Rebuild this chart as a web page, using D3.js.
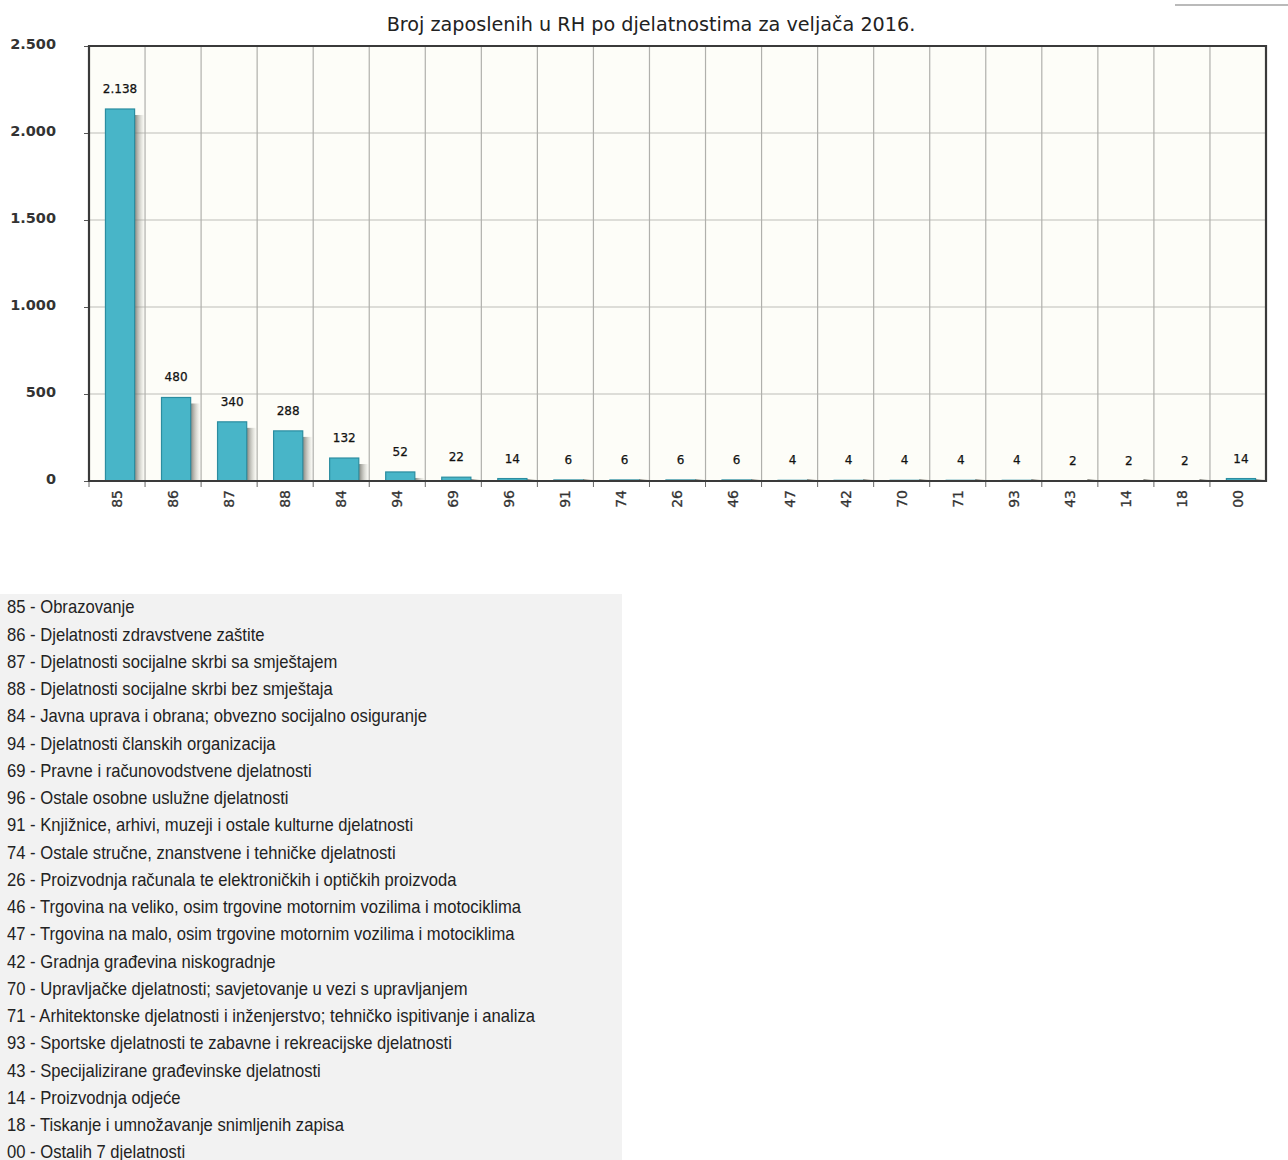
<!DOCTYPE html>
<html>
<head>
<meta charset="utf-8">
<script src="https://cdn.jsdelivr.net/npm/d3@7"></script>
<style>
  body { margin: 0; background: #fff; }
  svg { display: block; }
</style>
</head>
<body>
<svg id="chart" width="1288" height="1160"></svg>
<script>
// sifre djelatnosti, redom kao na grafu
const codes = ["85","86","87","88","84","94","69","96","91","74","26","46","47","42","70","71","93","43","14","18","00"];
const employees = [2138, 480, 340, 288, 132, 52, 22, 14, 6, 6, 6, 6, 4, 4, 4, 4, 4, 2, 2, 2, 14];
const yTicks = [0, 500, 1000, 1500, 2000, 2500];
const names = [
  "Obrazovanje",
  "Djelatnosti zdravstvene zaštite",
  "Djelatnosti socijalne skrbi sa smještajem",
  "Djelatnosti socijalne skrbi bez smještaja",
  "Javna uprava i obrana; obvezno socijalno osiguranje",
  "Djelatnosti članskih organizacija",
  "Pravne i računovodstvene djelatnosti",
  "Ostale osobne uslužne djelatnosti",
  "Knjižnice, arhivi, muzeji i ostale kulturne djelatnosti",
  "Ostale stručne, znanstvene i tehničke djelatnosti",
  "Proizvodnja računala te elektroničkih i optičkih proizvoda",
  "Trgovina na veliko, osim trgovine motornim vozilima i motociklima",
  "Trgovina na malo, osim trgovine motornim vozilima i motociklima",
  "Gradnja građevina niskogradnje",
  "Upravljačke djelatnosti; savjetovanje u vezi s upravljanjem",
  "Arhitektonske djelatnosti i inženjerstvo; tehničko ispitivanje i analiza",
  "Sportske djelatnosti te zabavne i rekreacijske djelatnosti",
  "Specijalizirane građevinske djelatnosti",
  "Proizvodnja odjeće",
  "Tiskanje i umnožavanje snimljenih zapisa",
  "Ostalih 7 djelatnosti"
];
const title = "Broj zaposlenih u RH po djelatnostima za veljača 2016.";

const data = codes.map((c, i) => ({ code: c, value: employees[i], name: names[i] }));
const fmt = d3.formatLocale({ decimal: ",", thousands: ".", grouping: [3], currency: ["", ""] }).format(",d");

const svg = d3.select("#chart");
const plotL = 89, plotR = 1266, plotT = 46, plotB = 481;

const x = d3.scaleBand().domain(codes).range([plotL, plotR]).paddingInner(0).paddingOuter(0);
const y = d3.scaleLinear().domain([0, 2500]).range([plotB, plotT]);
const barW = x.bandwidth() * 0.52;
const barShift = 3; // bars sit a little right of the band centre
const barX = d => x(d.code) + (x.bandwidth() - barW) / 2 + barShift;

const defs = svg.append("defs");
const grad = defs.append("linearGradient").attr("id", "shadow");
grad.append("stop").attr("offset", "0%").attr("stop-color", "#6e6e66").attr("stop-opacity", 0.85);
grad.append("stop").attr("offset", "100%").attr("stop-color", "#b8b8b0").attr("stop-opacity", 0);

// stray line in the top right corner
svg.append("line").attr("x1", 1175).attr("x2", 1288).attr("y1", 5).attr("y2", 5)
  .attr("stroke", "#777").attr("stroke-width", 1.2);

svg.append("text")
  .attr("x", 651).attr("y", 31)
  .attr("text-anchor", "middle")
  .attr("font-family", "DejaVu Sans")
  .attr("font-size", 19.2)
  .attr("fill", "#222")
  .text(title);

// plot background
svg.append("rect").attr("x", plotL).attr("y", plotT).attr("width", plotR - plotL).attr("height", plotB - plotT)
  .attr("fill", "#fdfdf8");

// grid
svg.append("g").selectAll("line").data(yTicks.slice(1)).join("line")
  .attr("x1", plotL).attr("x2", plotR)
  .attr("y1", d => y(d)).attr("y2", d => y(d))
  .attr("stroke", "#bdbdb8").attr("stroke-width", 1.2);
svg.append("g").selectAll("line").data(codes.slice(1)).join("line")
  .attr("x1", d => x(d)).attr("x2", d => x(d))
  .attr("y1", plotT).attr("y2", plotB)
  .attr("stroke", "#b0b0ac").attr("stroke-width", 1.2);

// shadows
svg.append("g").selectAll("rect").data(data).join("rect")
  .attr("x", d => barX(d) + barW)
  .attr("y", d => Math.min(y(d.value) + 6, plotB - 2))
  .attr("width", 10)
  .attr("height", d => Math.max(plotB - Math.min(y(d.value) + 6, plotB - 2), 0))
  .attr("fill", "url(#shadow)");

// bars
svg.append("g").selectAll("rect").data(data).join("rect")
  .attr("x", barX)
  .attr("y", d => y(d.value))
  .attr("width", barW)
  .attr("height", d => plotB - y(d.value))
  .attr("fill", "#48b5c8")
  .attr("stroke", "#2b8da0")
  .attr("stroke-width", 1.2);

// value labels
svg.append("g").selectAll("text").data(data).join("text")
  .attr("x", d => barX(d) + barW / 2)
  .attr("y", d => y(d.value) - 16)
  .attr("text-anchor", "middle")
  .attr("font-family", "DejaVu Sans")
  .attr("font-size", 12)
  .attr("fill", "#111")
  .attr("stroke", "#111").attr("stroke-width", 0.25)
  .text(d => fmt(d.value));

// axes
const yAxis = svg.append("g").attr("transform", `translate(${plotL},0)`)
  .call(d3.axisLeft(y).tickValues(yTicks).tickSize(5).tickPadding(28).tickFormat(fmt));
yAxis.select(".domain").remove();
yAxis.selectAll("line").attr("stroke", "#555");
yAxis.selectAll("text").attr("font-family", "DejaVu Sans").attr("font-size", 14.5)
  .attr("font-weight", "bold").attr("fill", "#333").attr("dy", "0.2em");

const xAxis = svg.append("g").attr("transform", `translate(0,${plotB})`)
  .call(d3.axisBottom(x).tickSize(0).tickPadding(0));
xAxis.select(".domain").remove();
xAxis.selectAll(".tick text")
  .attr("transform", "rotate(-90)")
  .attr("x", -9).attr("y", 0).attr("dy", "0.35em")
  .attr("text-anchor", "end")
  .attr("font-family", "DejaVu Sans").attr("font-size", 14).attr("fill", "#333")
  .attr("stroke", "#333").attr("stroke-width", 0.3);
svg.append("g").selectAll("line").data(codes).join("line")
  .attr("x1", d => x(d)).attr("x2", d => x(d))
  .attr("y1", plotB).attr("y2", plotB + 6)
  .attr("stroke", "#666");

svg.append("path")
  .attr("d", `M${plotL},${plotB}V${plotT}H${plotR}V${plotB}Z`)
  .attr("fill", "none").attr("stroke", "#3a3a3a").attr("stroke-width", 2.2);

// legend box
svg.append("rect").attr("x", 0).attr("y", 594).attr("width", 622).attr("height", 566).attr("fill", "#f2f2f2");
svg.append("g").attr("transform", "translate(7,0) scale(0.95,1)")
  .selectAll("text").data(data).join("text")
  .attr("x", 0)
  .attr("y", (d, i) => 613.5 + i * 27.25)
  .attr("font-family", "Liberation Sans, Arial")
  .attr("font-size", 17.5)
  .attr("fill", "#222")
  .text(d => `${d.code} - ${d.name}`);
</script>
</body>
</html>
